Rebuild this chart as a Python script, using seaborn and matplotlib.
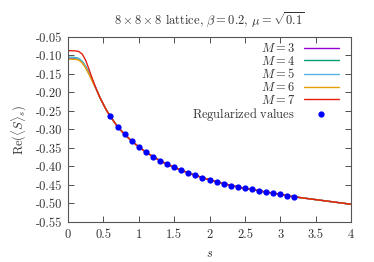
import numpy as np
import pandas as pd
import matplotlib
matplotlib.use("Agg")
import matplotlib.pyplot as plt
import seaborn as sns

# ---- data ----
s_head = [0.0, 0.05, 0.10, 0.15, 0.20, 0.25, 0.30, 0.35]
s_tail = [0.40, 0.45, 0.50, 0.55, 0.60, 0.70, 0.80, 0.90, 1.00, 1.10, 1.20, 1.30,
          1.40, 1.50, 1.60, 1.70, 1.80, 1.90, 2.00, 2.10, 2.20, 2.30, 2.40, 2.50,
          2.60, 2.70, 2.80, 2.90, 3.00, 3.10, 3.20, 3.40, 3.60, 3.80, 4.00]
tail_vals = [-0.191, -0.213, -0.232, -0.250, -0.265, -0.2925, -0.313, -0.331, -0.347,
             -0.361, -0.373, -0.384, -0.394, -0.402, -0.410, -0.417, -0.424, -0.430,
             -0.436, -0.441, -0.446, -0.451, -0.455, -0.459, -0.462, -0.466, -0.469,
             -0.472, -0.475, -0.479, -0.482, -0.487, -0.492, -0.497, -0.502]

head_M3 = [-0.107, -0.107, -0.1075, -0.109, -0.117, -0.131, -0.150, -0.170]
head_M4 = [-0.105, -0.105, -0.1055, -0.108, -0.116, -0.130, -0.149, -0.169]
head_M5 = [-0.106, -0.106, -0.1065, -0.1085, -0.1165, -0.1305, -0.1495, -0.1695]
head_M6 = [-0.110, -0.110, -0.1105, -0.112, -0.120, -0.134, -0.152, -0.172]
head_M7 = [-0.087, -0.087, -0.0875, -0.089, -0.096, -0.113, -0.139, -0.166]

M_labels = ["$M=3$", "$M=4$", "$M=5$", "$M=6$", "$M=7$"]
M_heads = [head_M3, head_M4, head_M5, head_M6, head_M7]
M_colors = ["#9400d3", "#009e73", "#56b4e9", "#e69f00", "#e51e10"]

reg_s = [0.6, 0.7, 0.8, 0.9, 1.0, 1.1, 1.2, 1.3, 1.4, 1.5, 1.6, 1.7, 1.8, 1.9,
         2.0, 2.1, 2.2, 2.3, 2.4, 2.5, 2.6, 2.7, 2.8, 2.9, 3.0, 3.1, 3.2]
reg_vals = [-0.2635, -0.2925, -0.313, -0.331, -0.347, -0.362, -0.374, -0.384, -0.394,
            -0.402, -0.410, -0.418, -0.424, -0.430, -0.437, -0.442, -0.447, -0.452,
            -0.4555, -0.459, -0.462, -0.466, -0.470, -0.4725, -0.475, -0.479, -0.483]

x_ticks = [0, 0.5, 1, 1.5, 2, 2.5, 3, 3.5, 4]
x_ticklabels = ["0", "0.5", "1", "1.5", "2", "2.5", "3", "3.5", "4"]
y_ticks = [-0.05, -0.10, -0.15, -0.20, -0.25, -0.30, -0.35, -0.40, -0.45, -0.50, -0.55]
y_ticklabels = ["-0.05", "-0.10", "-0.15", "-0.20", "-0.25", "-0.30", "-0.35",
                "-0.40", "-0.45", "-0.50", "-0.55"]

# ---- style ----
sns.set_style("ticks")
plt.rcParams["font.family"] = ["cmr10", "DejaVu Serif"]
plt.rcParams["mathtext.fontset"] = "cm"
plt.rcParams["axes.unicode_minus"] = False

FS = 9
fig = plt.figure(figsize=(3.74, 2.62), dpi=100)
ax = fig.add_axes([68/374, 1-222/262, (351-68)/374, (222-37)/262])

for lab, head, col in zip(M_labels, M_heads, M_colors):
    df = pd.DataFrame({"s": s_head + s_tail, "v": head + tail_vals})
    sns.lineplot(data=df, x="s", y="v", color=col, linewidth=1.0, label=lab, ax=ax,
                 sort=False)

dfr = pd.DataFrame({"s": reg_s, "v": reg_vals})
sns.lineplot(data=dfr, x="s", y="v", color="#0000ff", marker="o", linestyle="",
             markersize=4.5, markeredgewidth=0, sort=False,
             label=r"$\mathrm{Regularized\ values}$", ax=ax, zorder=5)

ax.set_xlim(0, 4)
ax.set_ylim(-0.55, -0.05)
ax.set_xticks(x_ticks)
ax.set_xticklabels(x_ticklabels)
ax.set_yticks(y_ticks)
ax.set_yticklabels(y_ticklabels)
ax.tick_params(direction="in", length=4, width=0.6, top=True, right=True,
               labelsize=FS, colors="#333333", pad=4)
ax.tick_params(axis="x", pad=5)
for sp in ax.spines.values():
    sp.set_visible(True)
    sp.set_color("#555555")
    sp.set_linewidth(0.8)

ax.set_xlabel("$s$", fontsize=FS, color="#333333", labelpad=5)
ax.set_ylabel(r"Re$(\langle S\rangle_s)$", fontsize=FS, color="#333333", labelpad=5)
ax.set_title(r"$8\times8\times8$ lattice, $\beta=0.2$, $\mu=\sqrt{0.1}$",
             fontsize=FS, color="#333333", pad=9)

leg = ax.legend(loc="upper right", bbox_to_anchor=(0.975, 1.0), frameon=False,
                markerfirst=False, fontsize=FS, handlelength=2.8, handletextpad=0.7,
                labelspacing=-0.03, borderaxespad=0.0, numpoints=1)
try:
    leg._legend_box._children[1]._children[0].align = "right"
except Exception:
    pass
for t in leg.get_texts():
    t.set_color("#333333")

fig.savefig("out.png", dpi=100)
